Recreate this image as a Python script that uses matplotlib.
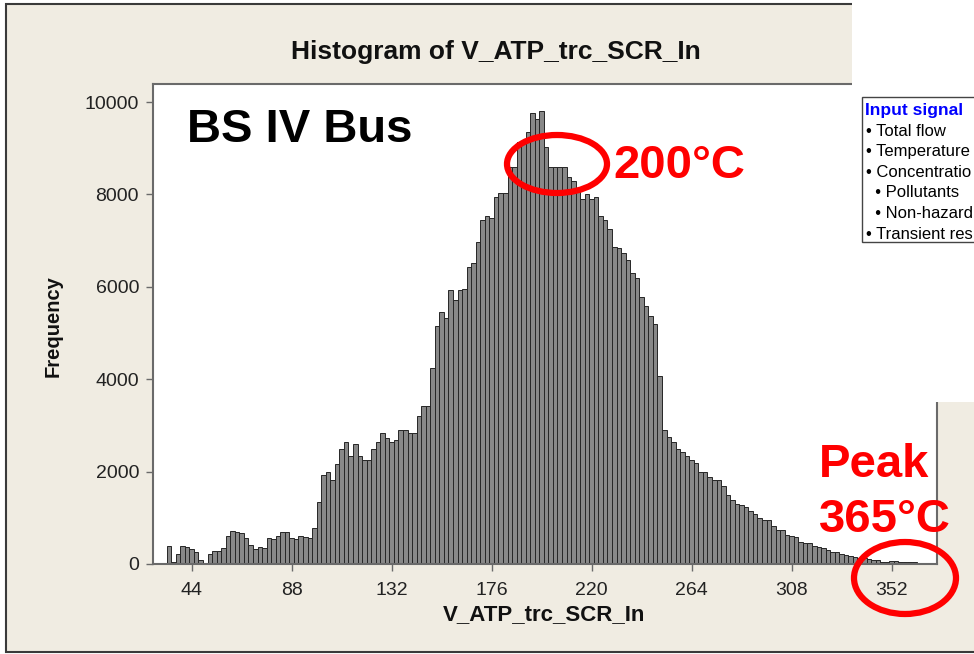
import matplotlib
matplotlib.use("Agg")
import matplotlib.pyplot as plt
import matplotlib.patches as mpatches
import numpy as np

# ── data ─────────────────────────────────────────────────────────────────────
BIN_START = 33
BIN_WIDTH = 2
counts = [
    390, 40, 215, 400, 360, 330, 265, 85, 30, 215,
    290, 290, 340, 600, 720, 700, 670, 560, 410, 320,
    360, 350, 560, 550, 600, 700, 700, 560, 540, 600,
    590, 570, 770, 1350, 1930, 2000, 1820, 2165, 2500, 2630,
    2340, 2600, 2340, 2250, 2250, 2480, 2650, 2840, 2735, 2630,
    2685, 2890, 2890, 2830, 2830, 3210, 3430, 3430, 4240, 5150,
    5460, 5330, 5930, 5715, 5930, 5950, 6420, 6510, 6960, 7450,
    7530, 7500, 7940, 8040, 8040, 8600, 8600, 9130, 9130, 9360,
    9770, 9630, 9810, 9030, 8590, 8590, 8590, 8590, 8370, 8300,
    8100, 7900, 8010, 7900, 7940, 7530, 7450, 7250, 6870, 6830,
    6730, 6580, 6290, 6190, 5790, 5590, 5370, 5200, 4070, 2890,
    2740, 2650, 2500, 2430, 2340, 2250, 2180, 2000, 1990, 1890,
    1820, 1820, 1690, 1490, 1385, 1300, 1280, 1230, 1150, 1080,
    990, 950, 950, 820, 735, 730, 630, 605, 580, 485,
    450, 450, 390, 360, 340, 300, 265, 250, 215, 195,
    170, 160, 135, 125, 100, 90, 80, 50, 50, 60,
    60, 50, 40, 40, 35,
]
x_ticks = [44, 88, 132, 176, 220, 264, 308, 352]
y_ticks = [0, 2000, 4000, 6000, 8000, 10000]
# the slide's text box is cut off by the right edge of the picture
signal_title = "Input signal"
signal_lines = ["• Total flow", "• Temperature", "• Concentratio",
                "  • Pollutants", "  • Non-hazard", "• Transient res"]

# ── style ────────────────────────────────────────────────────────────────────
BEIGE = "#F0ECE2"
RED = "#FF0000"
BLUE = "#0000FF"
FRAME = "#6A6A6A"
SANS = ["Liberation Sans", "DejaVu Sans"]

W, H = 974, 654


def fx(x):
    return x / W


def fy(y):
    return 1 - y / H


fig = plt.figure(figsize=(W / 100, H / 100), dpi=100)
fig.patch.set_facecolor("white")

# Minitab window background
fig.patches.append(mpatches.Rectangle((fx(6), fy(652)), fx(1100), 648 / H,
                                      transform=fig.transFigure, facecolor=BEIGE,
                                      edgecolor="#3a3a3a", linewidth=1.5, zorder=-5))

ax = fig.add_axes([fx(153), fy(564), (937 - 153) / W, (564 - 84) / H])
ax.set_facecolor("white")

edges = BIN_START + BIN_WIDTH * np.arange(len(counts))
ax.bar(edges, counts, width=BIN_WIDTH, align="edge", color="#888888",
       edgecolor="#262626", linewidth=0.7)

ax.set_xlim(27, 372)
ax.set_ylim(0, 10390)
ax.set_xticks(x_ticks)
ax.set_yticks(y_ticks)
ax.tick_params(axis="x", pad=8)
ax.tick_params(axis="y", pad=5)
ax.tick_params(direction="out", length=5, width=1, color=FRAME, labelsize=14,
               labelcolor="#222222")
for lab in ax.get_xticklabels() + ax.get_yticklabels():
    lab.set_family(SANS)
for sp in ax.spines.values():
    sp.set_color(FRAME)
    sp.set_linewidth(1.5)

fig.text(fx(496), fy(52), "Histogram of V_ATP_trc_SCR_In", family=SANS,
         fontsize=19, fontweight="bold", color="#111111", ha="center", va="center")
fig.text(fx(544), fy(615), "V_ATP_trc_SCR_In", family=SANS, fontsize=16,
         fontweight="bold", color="#111111", ha="center", va="center")
fig.text(fx(53), fy(326), "Frequency", family=SANS, fontsize=14.5,
         fontweight="bold", color="#111111", ha="center", va="center", rotation=90)

# slide content covering the top-right part of the screenshot
fig.patches.append(mpatches.Rectangle((fx(852), fy(402)), fx(200), 402 / H,
                                      transform=fig.transFigure, facecolor="white",
                                      edgecolor="none", zorder=2))
fig.patches.append(mpatches.Rectangle((fx(862), fy(242)), fx(200), (242 - 97) / H,
                                      transform=fig.transFigure, facecolor="white",
                                      edgecolor="#444444", linewidth=1.0, zorder=3))
fig.text(fx(865), fy(110), signal_title, family=SANS, fontsize=12.5,
         fontweight="bold", color=BLUE, va="center", ha="left", zorder=4)
for k, line in enumerate(signal_lines):
    fig.text(fx(866), fy(131 + 20.6 * k), line, family=SANS, fontsize=12,
             color="black", va="center", ha="left", zorder=4)

# annotations
fig.text(fx(187), fy(130), "BS IV Bus", family=SANS, fontsize=34,
         fontweight="bold", color="black", va="center", ha="left", zorder=4)
fig.text(fx(613), fy(166), "200°C", family=SANS, fontsize=34,
         fontweight="bold", color=RED, va="center", ha="left", zorder=4)
fig.text(fx(819), fy(465), "Peak", family=SANS, fontsize=34,
         fontweight="bold", color=RED, va="center", ha="left", zorder=4)
fig.text(fx(819), fy(520), "365°C", family=SANS, fontsize=34,
         fontweight="bold", color=RED, va="center", ha="left", zorder=4)

fig.patches.append(mpatches.Ellipse((fx(557), fy(164)), 100 / W, 58 / H,
                                    transform=fig.transFigure, facecolor="none",
                                    edgecolor=RED, linewidth=4.5, zorder=5))
fig.patches.append(mpatches.Ellipse((fx(905), fy(578)), 102 / W, 72 / H,
                                    transform=fig.transFigure, facecolor="none",
                                    edgecolor=RED, linewidth=4.5, zorder=5))

plt.savefig("out.png", dpi=100, facecolor="white")
